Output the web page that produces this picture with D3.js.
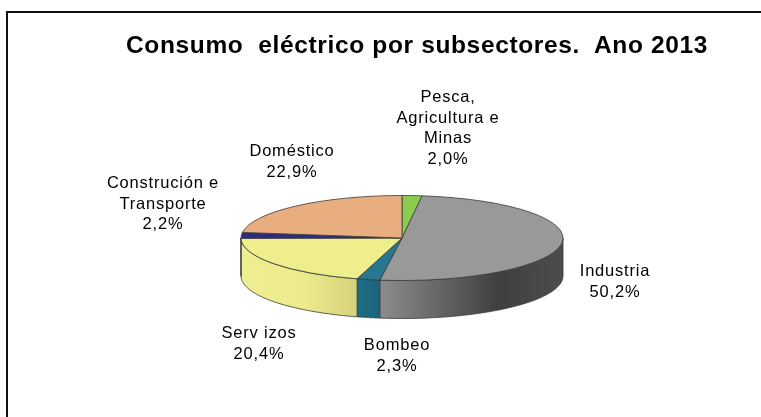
<!DOCTYPE html>
<html>
<head>
<meta charset="utf-8">
<script src="https://cdnjs.cloudflare.com/ajax/libs/d3/7.8.5/d3.min.js"></script>
<style>
  html, body { margin: 0; background: #fff; }
  text { font-family: "Liberation Sans", Arial, sans-serif; fill: #000; }
</style>
</head>
<body>
<script>
var width = 761;
var height = 417;

// Data, in drawing order clockwise from the top of the pie
var categories = ["Pesca", "Industria", "Bombeo", "Servizos", "Construcion", "Domestico"];
var values = [2.0, 50.2, 2.3, 20.4, 2.2, 22.9];
var topColors = ["#8ccb50", "#999999", "#25778f", "#efee8c", "#2e2a80", "#e8ae80"];
var labelLines = [
  ["Pesca,", "Agricultura e", "Minas", "2,0%"],
  ["Industria", "50,2%"],
  ["Bombeo", "2,3%"],
  ["Serv izos", "20,4%"],
  ["Construción e", "Transporte", "2,2%"],
  ["Doméstico", "22,9%"]
];
var labelPos = [[448, 102], [615, 276], [397, 350], [259, 338], [163, 188], [292, 156]];
var wallStops = {
  Industria: [["0%", "#8c8c8c"], ["65%", "#3f3f3f"], ["100%", "#4d4d4d"]],
  Bombeo: [["0%", "#1f6d85"], ["100%", "#1f6479"]],
  Servizos: [["0%", "#efee90"], ["55%", "#ecea8c"], ["100%", "#d6d27c"]]
};

// pie geometry
var cx = 402, cy = 238, rx = 161, ry = 42.5, depth = 38;

var svg = d3.select("body").append("svg")
  .attr("width", width)
  .attr("height", height)
  .style("display", "block");

// frame: only the left and top edges show
svg.append("path")
  .attr("d", "M7," + height + "V12H" + width)
  .attr("fill", "none")
  .attr("stroke", "#111")
  .attr("stroke-width", 2);

var defs = svg.append("defs");
defs.append("filter").attr("id", "soft")
  .append("feGaussianBlur").attr("stdDeviation", 0.45);
defs.append("filter").attr("id", "softText")
  .append("feGaussianBlur").attr("stdDeviation", 0.3);

svg.append("text")
  .attr("x", 417)
  .attr("y", 52.5)
  .attr("text-anchor", "middle")
  .attr("font-size", 24.5)
  .attr("font-weight", "bold")
  .attr("letter-spacing", 0.64)
  .attr("filter", "url(#softText)")
  .style("white-space", "pre")
  .text("Consumo  eléctrico por subsectores.  Ano 2013");

var pie = d3.pie().sort(null).value(function(d) { return d; });
var arcs = pie(values);

function ellipseX(a) { return cx + rx * Math.sin(a); }
function ellipseY(a) { return cy - ry * Math.cos(a); }

var chart = svg.append("g").attr("filter", "url(#soft)");

// side walls, only the front half of the rim is visible
var wall = chart.append("g");
arcs.forEach(function(d, i) {
  var a0 = Math.max(d.startAngle, Math.PI / 2);
  var a1 = Math.min(d.endAngle, Math.PI * 1.5);
  if (a1 <= a0) return;
  var steps = d3.range(0, 41).map(function(k) { return a0 + (a1 - a0) * k / 40; });
  var area = d3.area()
    .x(function(a) { return ellipseX(a); })
    .y0(function(a) { return ellipseY(a); })
    .y1(function(a) { return ellipseY(a) + depth; });

  var name = categories[i];
  var fill = topColors[i];
  if (wallStops[name]) {
    var xs = [ellipseX(a0), ellipseX(a1)];
    var grad = defs.append("linearGradient")
      .attr("id", "wall" + i)
      .attr("gradientUnits", "userSpaceOnUse")
      .attr("x1", d3.min(xs)).attr("x2", d3.max(xs))
      .attr("y1", 0).attr("y2", 0);
    wallStops[name].forEach(function(s) {
      grad.append("stop").attr("offset", s[0]).attr("stop-color", s[1]);
    });
    fill = "url(#wall" + i + ")";
  }
  wall.append("path")
    .attr("d", area(steps))
    .attr("fill", fill)
    .attr("stroke", "#3a3a3a")
    .attr("stroke-width", 0.8);
});

// top face: circular arcs squashed into an ellipse
var arc = d3.arc().innerRadius(0).outerRadius(rx);
chart.append("g")
  .attr("transform", "translate(" + cx + "," + cy + ") scale(1," + (ry / rx) + ")")
  .selectAll("path")
  .data(arcs)
  .enter()
  .append("path")
  .attr("d", arc)
  .attr("fill", function(d, i) { return topColors[i]; })
  .attr("stroke", "#3a3a3a")
  .attr("stroke-width", 0.8)
  .attr("vector-effect", "non-scaling-stroke");

// labels
labelLines.forEach(function(lines, i) {
  var t = svg.append("text")
    .attr("text-anchor", "middle")
    .attr("font-size", 16.5)
    .attr("letter-spacing", 0.8)
    .attr("filter", "url(#softText)");
  lines.forEach(function(line, k) {
    t.append("tspan")
      .attr("x", labelPos[i][0])
      .attr("y", labelPos[i][1] + k * 20.7)
      .text(line);
  });
});
</script>
</body>
</html>
